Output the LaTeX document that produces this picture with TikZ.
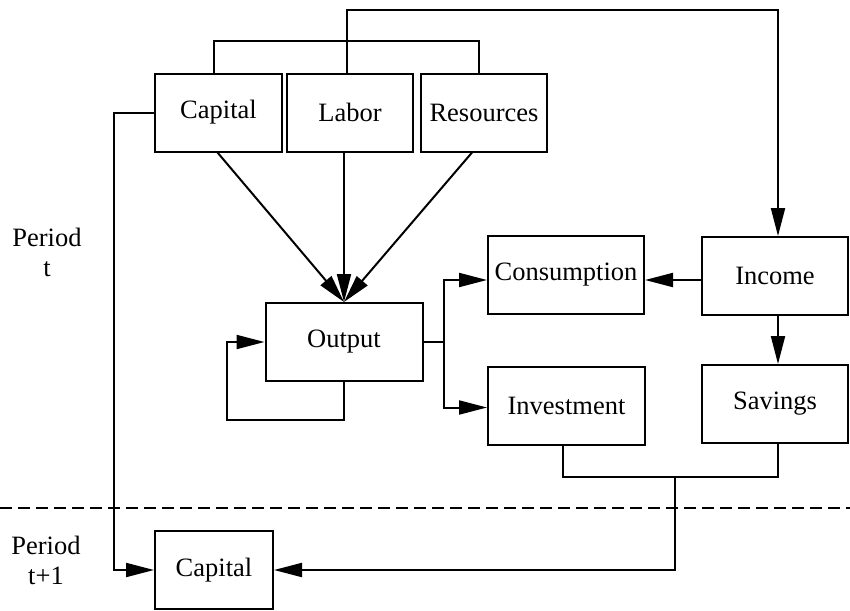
\documentclass[tikz,border=0pt]{standalone}
\usepackage{fontspec}
\setmainfont{Liberation Serif}
\usetikzlibrary{arrows.meta}
\begin{document}
\begin{tikzpicture}[x=1pt,y=-1pt,
  every node/.style={font=\fontsize{26.5}{30}\selectfont},
  box/.style={draw,line width=2pt,rectangle,inner sep=0pt,minimum height=78pt},
  conn/.style={line width=2pt},
  arr/.style={conn,-{Triangle[length=28pt,width=14pt]}}]
\useasboundingbox (0,0) rectangle (850,610);
\node[box,minimum width=127pt] (cap) at (218.5,112.5) {Capital};
\node[box,minimum width=126pt] (lab) at (350,112.5) {Labor};
\node[box,minimum width=126pt] (res) at (484,112.5) {Resources};
\node[box,minimum width=157pt] (out) at (344,342) {Output};
\node[box,minimum width=156pt] (con) at (566,275) {Consumption};
\node[box,minimum width=146pt] (inc) at (775,276) {Income};
\node[box,minimum width=157pt] (inv) at (566.5,405.5) {Investment};
\node[box,minimum width=146pt] (sav) at (775,404) {Savings};
\node[box,minimum width=118pt] (cap2) at (214,570) {Capital};
\node[align=center] (pt) at (47,252) {Period\\t};
\node[align=center] (pt1) at (46,560) {Period\\t+1};
% top bracket
\draw[conn] ([xshift=-5pt]cap.north) -- ++(0,-31) -| ([xshift=-5pt]res.north);
% labor to income
\draw[arr] ([xshift=-3pt]lab.north) -- ++(0,-62) -| ([xshift=3pt]inc.north);
% capital to capital next period
\draw[arr] (cap.west) -- ++(-40,0) |- (cap2.west);
% inputs to output
\draw[arr] ([xshift=-1pt]cap.south) -- (out.north);
\draw[arr] (lab.south -| out.north) -- (out.north);
\draw[arr] ([xshift=-12pt]res.south) -- (out.north);
% output loop
\draw[arr] (out.south) -- ++(0,38) -- ++(-117,0) |- (out.west);
% output branches
\draw[conn] (out.east) -- ++(20,0) coordinate (br);
\draw[arr] (br) |- ([yshift=-5pt]con.west);
\draw[arr] (br) |- ([yshift=-2pt]inv.west);
% income
\draw[arr] ([yshift=-4pt]inc.west) -- ([yshift=-4pt]inc.west -| con.east);
\draw[arr] ([xshift=3pt]inc.south) -- ([xshift=3pt]sav.north);
% investment and savings join
\draw[conn] ([xshift=-3.5pt]inv.south) -- ++(0,31) coordinate (jl) -| ([xshift=3pt]sav.south);
\coordinate (j) at (675,476);
\draw[arr] (j) |- (cap2.east);
% period divider
\draw[line width=1.6pt,dash pattern=on 12pt off 6pt] (0,508) -- (850,508);
\end{tikzpicture}
\end{document}
